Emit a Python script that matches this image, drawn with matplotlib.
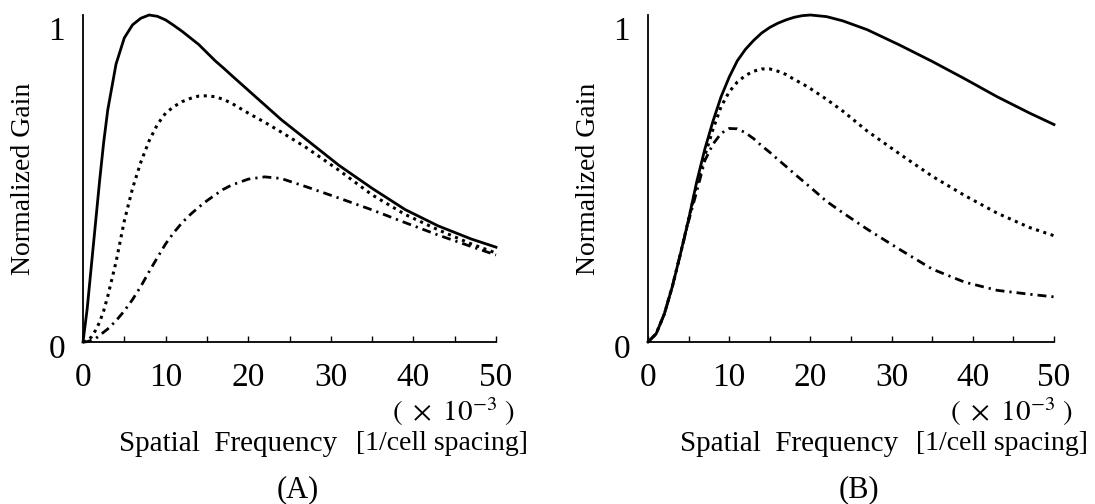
import matplotlib
matplotlib.use("Agg")
import matplotlib.pyplot as plt
from matplotlib import transforms


plt.rcParams["font.family"] = "Liberation Serif"
plt.rcParams["mathtext.fontset"] = "stix"

# spatial frequency (x 10^-3 per cell spacing) and normalized gain
FREQ_A = [0, 0.5, 1, 1.5, 2, 2.5, 3, 4, 5, 6, 7, 8, 9, 10, 11, 12, 13, 14, 15, 16,
          17, 18, 20, 22, 24, 27, 31, 35, 39, 43, 47, 50]
A_SOLID = [0, 0.10, 0.23, 0.36, 0.49, 0.61, 0.71, 0.85, 0.93, 0.97, 0.99, 1.0, 0.996,
           0.985, 0.968, 0.95, 0.93, 0.91, 0.885, 0.86, 0.838, 0.815, 0.77, 0.725, 0.68,
           0.62, 0.54, 0.47, 0.405, 0.355, 0.315, 0.29]
A_DOTTED = [0, 0.004, 0.015, 0.035, 0.06, 0.095, 0.14, 0.245, 0.37, 0.47, 0.55, 0.615,
            0.665, 0.70, 0.72, 0.735, 0.745, 0.752, 0.753, 0.75, 0.742, 0.73, 0.70, 0.672,
            0.642, 0.595, 0.525, 0.45, 0.39, 0.343, 0.30, 0.272]
A_DASHDOT = [0, 0.001, 0.005, 0.01, 0.02, 0.03, 0.04, 0.065, 0.095, 0.13, 0.17, 0.215,
             0.258, 0.30, 0.335, 0.365, 0.39, 0.412, 0.432, 0.45, 0.467, 0.48, 0.498, 0.505,
             0.50, 0.475, 0.44, 0.404, 0.365, 0.327, 0.292, 0.266]

FREQ_B = [0, 1, 2, 3, 4, 5, 6, 7, 8, 9, 10, 11, 12, 13, 14, 15, 16, 17, 18, 19, 20,
          22, 24, 27, 31, 35, 39, 43, 47, 50]
B_SOLID = [0, 0.025, 0.085, 0.17, 0.27, 0.375, 0.49, 0.59, 0.675, 0.75, 0.81, 0.86,
           0.895, 0.922, 0.945, 0.962, 0.975, 0.985, 0.993, 0.998, 1.0, 0.995, 0.982,
           0.955, 0.908, 0.858, 0.805, 0.75, 0.70, 0.665]
B_DOTTED = [0, 0.025, 0.085, 0.17, 0.27, 0.375, 0.48, 0.57, 0.65, 0.72, 0.765, 0.795,
            0.815, 0.828, 0.835, 0.835, 0.828, 0.818, 0.803, 0.79, 0.775, 0.742, 0.706,
            0.645, 0.575, 0.507, 0.448, 0.394, 0.35, 0.325]
B_DASHDOT = [0, 0.025, 0.085, 0.17, 0.27, 0.37, 0.46, 0.555, 0.605, 0.638, 0.653, 0.652,
             0.64, 0.622, 0.60, 0.58, 0.558, 0.537, 0.515, 0.494, 0.473, 0.43, 0.395,
             0.345, 0.283, 0.223, 0.183, 0.158, 0.146, 0.138]

W, H = 1095, 504


def draw_panel(fig, rect, freq, solid, dotted, dashdot, tag):
    ax = fig.add_axes(rect)
    ax.plot(freq, solid, color="black", lw=2.0, clip_on=False)
    ax.plot(freq, dotted, color="black", lw=2.2, linestyle=(0, (1, 1.5)), clip_on=False)
    ax.plot(freq, dashdot, color="black", lw=2.0, linestyle=(0, (3.2, 1.8, 0.8, 1.8)),
            clip_on=False)
    ax.set_xlim(0, 50)
    ax.set_ylim(0, 1)
    for side in ("top", "right"):
        ax.spines[side].set_visible(False)
    for side in ("left", "bottom"):
        ax.spines[side].set_linewidth(1.3)

    ax.set_xticks([0, 10, 20, 30, 40, 50])
    ax.set_xticks([5, 15, 25, 35, 45], minor=True)
    ax.tick_params(axis="x", which="both", direction="in", length=4, width=1,
                   labelsize=24, pad=15)
    ax.set_yticks([0, 1])
    ax.tick_params(axis="y", length=0, labelsize=24, pad=13)
    ylabels = ax.get_yticklabels()
    ylabels[0].set_transform(ylabels[0].get_transform()
                             + transforms.ScaledTranslation(0, -4 / 100, fig.dpi_scale_trans))
    ylabels[1].set_transform(ylabels[1].get_transform()
                             + transforms.ScaledTranslation(0, -13 / 100, fig.dpi_scale_trans))

    ax.set_ylabel("Normalized Gain", fontsize=20)
    ax.yaxis.set_label_coords(-0.115, 0.5)

    blend = transforms.blended_transform_factory(ax.transData, fig.transFigure)
    ax.text(52.3, 1 - 412 / H, r"$(\ \times\ 10^{-3}\ )$", fontsize=21,
            ha="right", va="center", transform=blend)
    ax.text(30.8, 1 - 444 / H, "Spatial  Frequency", fontsize=21,
            ha="right", va="center", transform=blend)
    ax.text(33.0, 1 - 444 / H, "[1/cell spacing]", fontsize=20,
            ha="left", va="center", transform=blend)
    ax.text(26, 1 - 490 / H, tag, fontsize=22, ha="center", va="center", transform=blend)
    return ax


fig = plt.figure(figsize=(W / 100, H / 100), dpi=100)
draw_panel(fig, [83 / W, 162 / H, 413 / W, 327 / H],
           FREQ_A, A_SOLID, A_DOTTED, A_DASHDOT, "(A)")
draw_panel(fig, [648 / W, 162 / H, 406 / W, 327 / H],
           FREQ_B, B_SOLID, B_DOTTED, B_DASHDOT, "(B)")
fig.savefig("out.png", dpi=100)
